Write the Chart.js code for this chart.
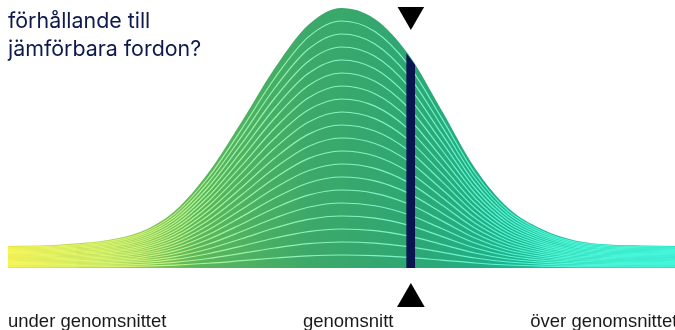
<!DOCTYPE html>
<html lang="sv">
<head>
<meta charset="UTF-8">
<title>Fördelning</title>
<style>
  html, body { margin: 0; padding: 0; background: #fff; overflow: hidden; }
  #wrap { position: relative; width: 675px; height: 330px; }
  #title {
    position: absolute; left: 8px; top: 7px; margin: 0;
    font: 400 21.4px "Inter", "Liberation Sans", sans-serif;
    line-height: 27.5px; color: #0e1a4e;
  }
</style>
</head>
<body>
<div id="wrap">
  <canvas id="chart" width="675" height="330"></canvas>
  <p id="title">förhållande till<br>jämförbara fordon?</p>
</div>
<script src="https://cdn.jsdelivr.net/npm/chart.js@4.4.0/dist/chart.umd.min.js"></script>
<script>
  // curve position (0 = far under, 100 = far over) and curve height
  const positions = [0, 5, 10, 15, 20, 25, 30, 35, 40, 45, 50, 55, 60, 65, 70, 75, 80, 85, 90, 95, 100]
  const heights = [22, 22.5, 24.5, 28, 36.5, 57, 95, 146, 200, 243, 260, 249, 214, 158, 100, 60, 39, 27.5, 23.5, 22.5, 22]

  // where the own vehicle sits
  const markerPos = 60.4
  const markerBarX = [59.7, 61.05]
  const markerBarTop = [215, 203]

  const labels = ['under genomsnittet', 'genomsnitt', 'över genomsnittet']
  const labelPos = [0, 51, 78.3]
  const labelAlign = ['left', 'center', 'left']

  const lineCount = 20

  function gradient(context, stops) {
    const chart = context.chart
    const area = chart.chartArea
    if (!area) return stops[0][1]
    const g = chart.ctx.createLinearGradient(area.left, 0, area.right, 0)
    stops.forEach(s => g.addColorStop(s[0], s[1]))
    return g
  }
  const fillStops = [[0, '#cfdc3c'], [0.15, '#a9d146'], [0.28, '#5db75a'], [0.45, '#3da969'], [0.6, '#2fa672'], [0.72, '#22ae86'], [0.85, '#1bc7a5'], [1, '#19d2b2']]
  const lineStops = [[0, '#f6f55a'], [0.2, '#ccf27a'], [0.35, '#98f2ac'], [0.55, '#80f2c4'], [0.75, '#55f4d4'], [1, '#44f6da']]

  const curve = positions.map((x, i) => ({ x: x, y: heights[i] }))

  const datasets = []
  datasets.push({
    data: [{ x: markerPos, y: 253.3 }, { x: markerPos, y: -31 }],
    showLine: false,
    pointStyle: 'triangle',
    pointRadius: [15.3, 16],
    pointRotation: [180, 0],
    pointBackgroundColor: '#000',
    pointBorderWidth: 0,
    order: 0
  })
  datasets.push({
    data: markerBarX.map((x, i) => ({ x: x, y: markerBarTop[i] })),
    borderWidth: 0,
    pointRadius: 0,
    tension: 0,
    fill: 'origin',
    backgroundColor: '#0b1450',
    order: 1
  })
  for (let k = 1; k < lineCount; k++) {
    datasets.push({
      data: curve.map(p => ({ x: p.x, y: p.y * k / lineCount })),
      borderWidth: 1.2,
      borderColor: c => gradient(c, lineStops),
      pointRadius: 0,
      cubicInterpolationMode: 'monotone',
      fill: false,
      order: 2
    })
  }
  datasets.push({
    data: curve,
    borderWidth: 0,
    pointRadius: 0,
    cubicInterpolationMode: 'monotone',
    fill: 'origin',
    backgroundColor: c => gradient(c, fillStops),
    order: 3
  })

  const bottomLabels = {
    id: 'bottomLabels',
    afterDraw(chart) {
      const ctx = chart.ctx
      const xs = chart.scales.x
      ctx.save()
      ctx.font = '18.5px "Liberation Sans", Arial, sans-serif'
      ctx.fillStyle = '#1a1a1a'
      ctx.textBaseline = 'alphabetic'
      labels.forEach((t, i) => {
        ctx.textAlign = labelAlign[i]
        ctx.fillText(t, xs.getPixelForValue(labelPos[i]), 327)
      })
      ctx.restore()
    }
  }

  const chart = new Chart(document.getElementById('chart').getContext('2d'), {
    type: 'line',
    data: { datasets: datasets },
    options: {
      responsive: false,
      animation: false,
      events: [],
      layout: { autoPadding: false, padding: { left: 8, right: 0, top: 0, bottom: 0 } },
      scales: {
        x: { type: 'linear', min: 0, max: 100, display: false },
        y: { min: -62, max: 268, display: false }
      },
      plugins: { legend: { display: false }, tooltip: { enabled: false } }
    },
    plugins: [bottomLabels]
  })
</script>
</body>
</html>
